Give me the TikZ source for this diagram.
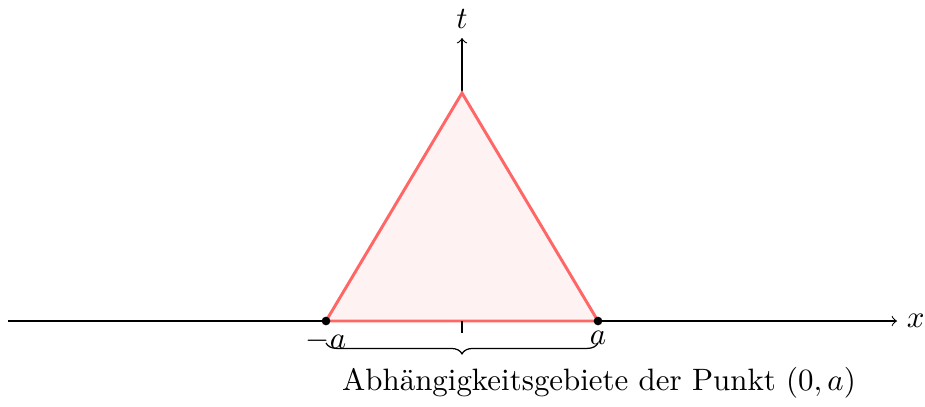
\documentclass[tikz,border=0pt]{standalone}
\usetikzlibrary{decorations.pathreplacing}
\begin{document}
\begin{tikzpicture}[x=0.3234pt,y=-0.3234pt,
  axis/.style={->,>=to,line width=0.35pt},
  tri/.style={draw=red!60,fill=red!5,line width=0.95pt},
  dot/.style={circle,fill=black,inner sep=0pt,minimum size=2.8pt}]
\useasboundingbox (0,0) rectangle (925,406);
\coordinate (xs) at (8,321);
\coordinate (xe) at (897,321);
\coordinate (o) at (462,321);
\coordinate (te) at (462,38);
\coordinate (A) at (326,321);
\coordinate (B) at (598,321);
\coordinate (C) at (462,93);
\draw[axis] (xs) -- (xe) node[right,inner sep=3pt] (xl) {$x$};
\draw[axis] (o) -- (te) node[above,inner sep=3pt] (tl) {$t$};
\draw[tri] (A) -- (C) -- (B) -- cycle;
\coordinate (tk) at (462,333);
\draw[line width=0.35pt] (o) -- (tk);
\node[dot] (pa) at (A) {};
\node[dot] (pb) at (B) {};
\node[below,inner sep=0pt,yshift=-3pt] (la) at (A) {$-a$};
\node[below,inner sep=0pt,yshift=-3pt] (lb) at (B) {$a$};
\coordinate (b1) at (326,343);
\coordinate (b2) at (598,343);
\draw[decorate,decoration={brace,mirror,amplitude=3.5pt}] (b1) -- (b2);
\node (lab) at (599,383) {Abhängigkeitsgebiete der Punkt $(0,a)$};
\end{tikzpicture}
\end{document}
